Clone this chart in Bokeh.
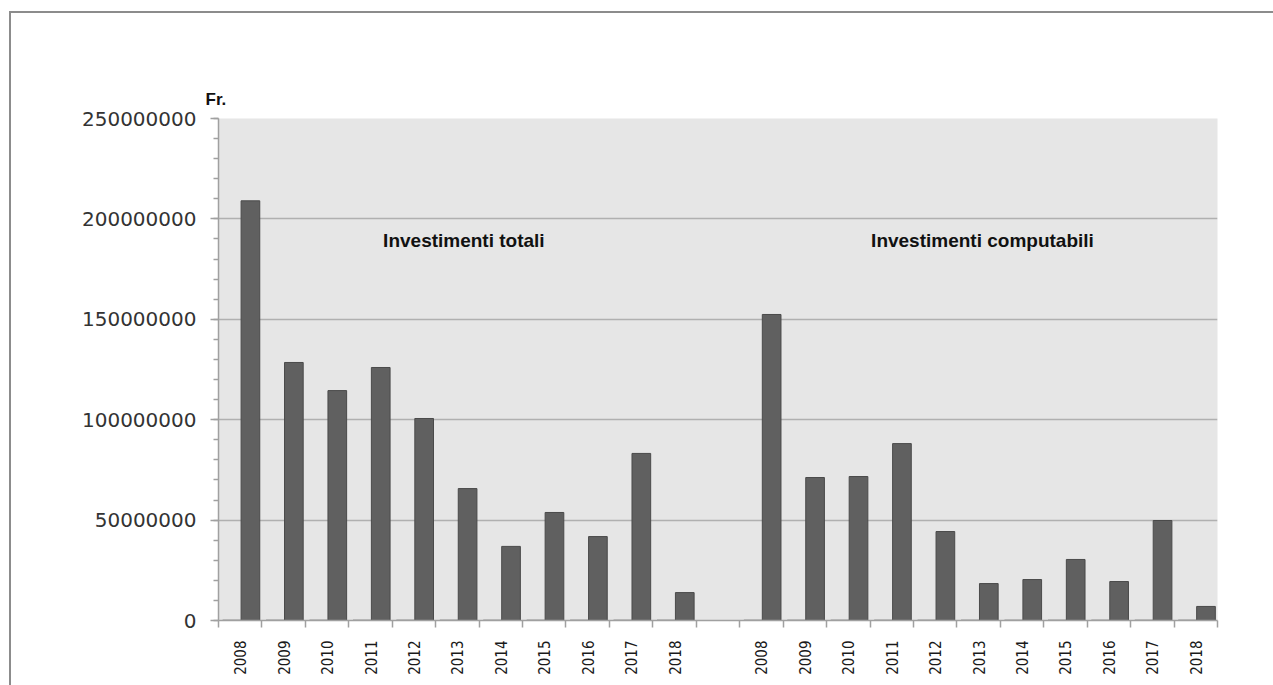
from bokeh.plotting import figure
from bokeh.models import FixedTicker, NumeralTickFormatter, Label, ColumnDataSource, InlineStyleSheet
from bokeh.embed import file_html
from bokeh.resources import INLINE
import math

years = ["2008", "2009", "2010", "2011", "2012", "2013", "2014", "2015", "2016", "2017", "2018"]
investimenti_totali = [209e6, 128.5e6, 114.5e6, 126e6, 100.6e6, 65.7e6, 36.9e6, 53.8e6, 41.8e6, 83.2e6, 13.9e6]
investimenti_computabili = [152.4e6, 71.2e6, 71.7e6, 88.1e6, 44.3e6, 18.4e6, 20.4e6, 30.4e6, 19.4e6, 49.8e6, 7.0e6]
serie_vuota = [0, 0, 0, 0, 0, 0, 0, 0, 0, 0, 0]
y_ticks = [0, 50e6, 100e6, 150e6, 200e6, 250e6]
group_labels = ["Investimenti  totali", "Investimenti  computabili"]
unit_label = "Fr."

n = len(years)
pos1 = list(range(n))
pos2 = [n + 1 + i for i in range(n)]
centers = pos1 + pos2
labels = years + years
values = investimenti_totali + investimenti_computabili
zeros = serie_vuota + serie_vuota

src = ColumnDataSource(dict(x=[c + 0.235 for c in centers], top=values))
src0 = ColumnDataSource(dict(x=[c - 0.195 for c in centers], top=zeros))

p = figure(width=1265, height=677, output_backend="svg", toolbar_location=None,
           x_range=(-0.5, 2 * n + 0.5), y_range=(0, 250e6),
           title=unit_label,
           min_border_left=218, min_border_right=48, min_border_top=118, min_border_bottom=57)

p.background_fill_color = "#e6e6e6"
p.border_fill_alpha = 0
p.outline_line_color = None
p.stylesheets = [InlineStyleSheet(css=(
    ":host { background-color: white; }"
    ":host::before { content: ''; position: absolute; left: 9px; top: 11px; width: 3000px; height: 3000px;"
    " border-left: 2px solid #8c8c8c; border-top: 2px solid #8c8c8c; pointer-events: none; }"
))]

p.title.text_font = "Liberation Sans"
p.title.text_font_style = "bold"
p.title.text_font_size = "17px"
p.title.text_color = "#111111"
p.title.offset = -13
p.title.standoff = 20

p.vbar(x="x", top="top", width=0.43, source=src, fill_color="#606060", line_color="#4a4a4a", line_width=1)
p.vbar(x="x", top="top", width=0.42, source=src0, fill_color="#606060", line_color="#4a4a4a", line_width=1.5)

xa = p.xaxis[0]
xa.ticker = FixedTicker(ticks=centers, minor_ticks=[b - 0.5 for b in range(2 * n + 2)])
xa.major_label_overrides = {c: l for c, l in zip(centers, labels)}
xa.major_label_orientation = math.pi / 2
xa.major_tick_out = 0
xa.major_tick_in = 0
xa.minor_tick_out = 7
xa.minor_tick_in = 0
xa.minor_tick_line_color = "#a0a0a0"
xa.minor_tick_line_width = 1.5
xa.axis_line_color = "#a0a0a0"
xa.axis_line_width = 1.5
xa.major_label_standoff = 13
xa.major_label_text_font = "DejaVu Sans Condensed"
xa.major_label_text_font_size = "15px"
xa.major_label_text_color = "#1a1a1a"

ya = p.yaxis[0]
ya.ticker = FixedTicker(ticks=y_ticks, minor_ticks=[i * 10e6 for i in range(26)])
ya.formatter = NumeralTickFormatter(format="0")
ya.major_tick_out = 8
ya.major_tick_in = 0
ya.minor_tick_out = 5
ya.minor_tick_in = 0
ya.major_tick_line_color = "#a0a0a0"
ya.minor_tick_line_color = "#a0a0a0"
ya.major_tick_line_width = 1.5
ya.minor_tick_line_width = 1.5
ya.axis_line_color = "#a0a0a0"
ya.axis_line_width = 1.5
ya.major_label_standoff = 14
ya.major_label_text_font = "DejaVu Sans"
ya.major_label_text_font_size = "20px"
ya.major_label_text_color = "#333333"

p.xgrid.grid_line_color = None
p.ygrid.grid_line_color = "#b0b0b0"
p.ygrid.grid_line_width = 1.5

p.add_layout(Label(x=5.21, y=189e6, text=group_labels[0], text_font="Liberation Sans", text_font_style="bold",
                   text_font_size="19px", text_baseline="middle", text_align="center", text_color="#111111"))
p.add_layout(Label(x=17.15, y=189e6, text=group_labels[1], text_font="Liberation Sans", text_font_style="bold",
                   text_font_size="19px", text_baseline="middle", text_align="center", text_color="#111111"))

open("out.html", "w").write(file_html(p, INLINE))
